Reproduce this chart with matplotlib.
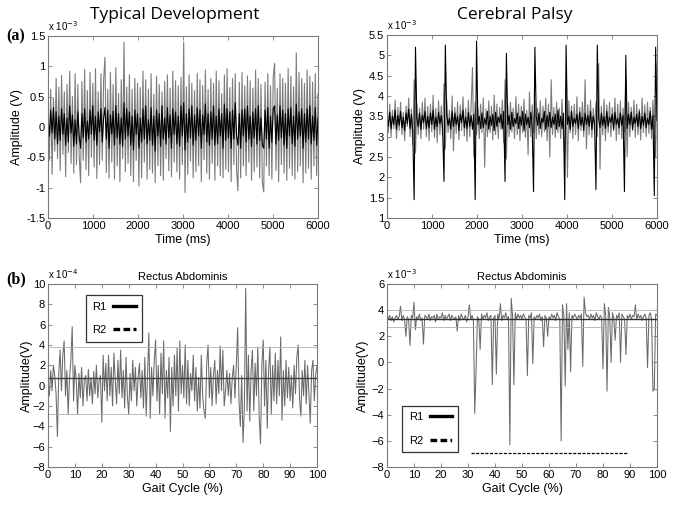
import numpy as np
import matplotlib
matplotlib.use("Agg")
import matplotlib.pyplot as plt
from matplotlib.lines import Line2D

plt.rcParams['font.family'] = ['Liberation Sans', 'DejaVu Sans']

# ---------------- data ----------------
# Top-left: Typical Development, amplitude in units of 0.01 x 10^-3 V
td_raw_gray = [
    25,-55,62,-78,48,-40,80,-52,66,-72,
    85,-45,58,-82,70,-42,92,-60,50,-76,
    88,-62,70,-48,-92,75,-55,95,-70,60,
    -80,90,-50,72,-66,96,-85,58,-62,88,
    -55,78,115,-75,62,-84,90,-58,70,-86,
    98,-64,55,-90,78,-52,140,-74,66,-60,
    86,-80,62,-90,80,-55,72,-97,65,-84,
    92,-58,78,-86,62,-70,88,-76,54,-92,
    84,-64,70,-80,58,-88,75,-52,86,-72,
    64,-82,92,-58,76,-74,68,-86,82,-62,
    140,-108,66,-78,86,-56,72,-84,60,-74,
    88,-64,78,-90,68,-54,94,-76,62,-86,
    80,-60,72,-88,92,-64,76,-80,55,-84,
    86,-70,96,-74,65,-90,80,-62,88,-72,
    -105,74,-84,90,-64,68,-80,84,-58,76,
    -88,64,-74,94,-66,80,-84,70,-92,-107,
    74,-64,88,-80,68,-86,82,105,-72,64,
    -90,88,-62,80,-76,72,-88,96,-68,84,
    -80,66,-86,122,-74,90,-64,80,-92,72,
    -76,94,-68,84,-86,74,-64,88,-80,55,
]
td_raw_black = [
    20,-15,28,-10,32,-20,25,-28,18,-22,
    30,-12,22,-30,15,-25,35,-10,20,-32,
    12,-28,25,-15,-35,22,-18,30,-25,10,
    -20,28,-12,35,-22,18,-30,25,-8,30,
    -25,15,32,-20,28,-35,20,-12,26,-30,
    35,-18,22,-28,15,-32,40,-20,30,-15,
    25,-30,18,-38,28,-12,22,-35,15,-25,
    30,-20,35,-28,12,-22,32,-30,18,-40,
    28,-15,22,-32,35,-20,15,-28,32,-18,
    20,-35,30,-12,25,-28,18,-32,35,-15,
    40,-38,22,-25,30,-18,35,-30,20,-22,
    32,-15,28,-35,20,-12,38,-25,22,-30,
    25,-20,35,-30,18,-28,30,-15,22,-35,
    38,-22,30,-18,25,-35,28,-20,40,-15,
    -30,22,-35,28,-15,30,-25,35,-20,18,
    -32,25,-18,30,-28,35,-22,15,-30,-35,
    28,-20,32,-35,18,-25,30,35,-28,20,
    -22,35,-18,28,-30,22,-35,30,-15,32,
    -28,18,-32,38,-20,25,-15,30,-35,22,
    -25,30,-20,35,-28,18,-22,32,-30,15,
]
# Top-right: Cerebral Palsy, units of 0.01 x 10^-3 V
cp_raw_gray = [
    370,310,380,300,365,320,390,295,372,315,
    385,305,360,290,375,325,395,300,368,280,
    440,260,380,305,370,295,385,318,395,300,
    375,290,380,312,402,298,370,285,388,305,
    376,300,430,270,392,310,365,295,400,265,
    372,308,385,292,378,315,398,302,370,288,
    390,300,375,470,250,385,305,372,295,380,
    310,395,225,368,300,388,310,375,292,402,
    305,380,295,372,318,390,285,440,245,378,
    300,385,312,370,295,398,305,380,290,375,
    310,392,298,365,255,410,300,378,310,385,
    295,370,305,388,300,375,312,395,290,380,
    250,440,305,372,298,385,310,370,295,392,
    302,250,420,200,388,310,375,295,380,305,
    398,290,372,315,385,300,440,270,378,305,
    390,298,370,312,385,300,480,220,375,305,
    392,290,378,310,385,300,372,315,395,290,
    380,305,388,295,370,312,440,250,385,300,
    372,315,390,298,380,305,368,292,395,310,
    378,300,385,308,372,295,390,305,250,480,
]
cp_raw_black = [
    355,325,360,320,350,330,365,318,352,328,
    362,322,348,315,358,332,368,320,355,310,
    145,520,345,325,358,318,352,335,362,320,
    350,322,358,330,365,318,348,325,360,332,
    352,320,190,525,355,328,345,318,362,325,
    358,330,350,315,355,335,365,322,348,320,
    360,325,352,318,355,145,535,330,350,320,
    358,322,345,330,362,318,350,328,355,315,
    360,325,348,335,355,320,362,190,505,330,
    352,318,360,325,345,332,358,320,350,328,
    362,315,355,330,348,322,360,325,165,520,
    350,328,358,320,345,335,362,318,352,325,
    360,322,348,330,355,318,365,325,350,320,
    358,145,525,330,350,318,362,325,345,332,
    355,320,360,328,348,315,358,330,352,325,
    362,318,350,332,170,525,345,322,358,328,
    350,320,362,325,348,335,355,318,360,330,
    345,322,358,328,352,165,500,320,355,330,
    360,318,348,332,355,325,362,320,350,328,
    358,322,345,330,362,318,352,155,520,340,
]
# Bottom-left: Rectus Abdominis (TD), units of 0.1 x 10^-4 V
td_gait = [
    5,-10,15,-5,20,10,-8,-50,12,35,
    -5,30,44,-10,15,-28,8,25,58,-15,
    20,5,-28,12,-12,18,-20,6,10,-15,
    16,-10,8,-18,14,-8,20,-12,5,10,
    -36,30,-5,22,-15,30,-10,18,-20,32,
    5,-18,25,-8,35,-12,15,-22,28,-10,
    -28,12,-15,25,-5,18,-20,8,22,-12,
    15,-22,28,-30,10,52,-32,18,-10,25,
    45,-15,20,-28,32,-8,44,-32,15,-12,
    28,-45,18,-20,30,-10,37,-25,44,-8,
    20,-12,40,-18,25,-20,12,-5,30,-15,
    18,-25,8,-22,30,-10,-25,-32,22,40,
    -12,18,-20,10,25,-18,15,-8,39,-5,
    35,-20,-5,15,-10,12,-18,8,20,-12,
    20,57,-15,-40,10,-56,-20,96,-25,30,
    -35,15,35,-25,22,-10,38,-30,-57,20,
    45,-20,25,-42,15,38,-28,20,-15,32,
    -18,25,-10,48,-34,15,-20,25,-12,18,
    -15,10,-22,20,-8,28,40,-12,-30,15,
    -10,25,-18,20,-8,-37,15,25,-15,10,
    20,
]
td_levels = [0.8, 3.85, -2.8]      # x 10^-4 V (R1 solid, thresholds)
# Bottom-right: Rectus Abdominis (CP), units of 0.1 x 10^-3 V
cp_gait = [
    37,33,36,32,35,31,34,36,33,35,
    43,32,36,33,20,35,33,13,36,34,
    46,25,35,33,37,32,34,14,36,35,
    33,37,32,35,34,36,31,37,33,35,
    34,38,32,36,33,35,37,32,36,34,
    33,35,24,36,32,37,34,33,36,31,
    35,44,33,36,32,-39,-5,35,33,10,
    37,33,36,34,38,32,35,36,-17,34,
    36,-9,37,33,45,32,36,34,38,33,
    35,-63,49,36,-17,38,33,37,34,36,
    33,37,35,32,-10,36,34,38,-1,35,
    33,36,34,37,32,35,12,36,34,20,
    35,33,37,34,36,32,38,35,33,-60,
    44,36,-18,45,10,38,-7,36,34,37,
    35,33,36,34,37,-3,50,38,35,36,
    33,37,34,36,32,38,35,33,36,34,
    -5,45,36,-22,42,35,0,38,34,17,
    36,34,38,0,37,35,33,6,36,34,
    37,33,36,35,44,33,37,34,36,32,
    35,37,34,-4,36,38,33,-22,-20,37,
    36,
]
cp_levels = [3.3, 4.0, 2.7]        # x 10^-3 V
cp_r2_level = -6.9
cp_r2_span = [31, 89]

# --------------- figure ---------------
W, H = 674, 509
fig = plt.figure(figsize=(W / 100, H / 100), dpi=100)

def axes_px(l, t, r, b):
    return fig.add_axes([l / W, 1 - b / H, (r - l) / W, (b - t) / H])

frame = '#7a7a7a'
def style(ax):
    for s in ax.spines.values():
        s.set_color(frame)
        s.set_linewidth(0.8)
    ax.tick_params(direction='in', top=True, right=True, length=3,
                   width=0.6, color=frame, labelsize=8, pad=2)

def mult(ax, exp):
    ax.text(0.0, 1.015, r'x 10$^{%d}$' % exp, transform=ax.transAxes,
            fontsize=7, ha='left', va='bottom')

gray = '#7c7c7c'

# (a) Typical Development
ax1 = axes_px(48, 36, 318, 218)
t1 = np.linspace(0, 6000, len(td_raw_gray))
ax1.plot(t1, np.array(td_raw_gray) / 100, color=gray, lw=0.8)
ax1.plot(t1, np.array(td_raw_black) / 100, color='black', lw=0.8)
ax1.set_xlim(0, 6000); ax1.set_ylim(-1.5, 1.5)
ax1.set_xticks(range(0, 6001, 1000))
ax1.set_yticks([-1.5, -1, -0.5, 0, 0.5, 1, 1.5])
ax1.set_yticklabels(['-1.5', '-1', '-0.5', '0', '0.5', '1', '1.5'])
ax1.set_xlabel('Time (ms)', fontsize=9, labelpad=2)
ax1.set_ylabel('Amplitude (V)', fontsize=9, labelpad=2)
style(ax1); mult(ax1, -3)

# (a) Cerebral Palsy
ax2 = axes_px(387, 35, 657, 218)
t2 = np.linspace(0, 6000, len(cp_raw_gray))
ax2.plot(t2, np.array(cp_raw_gray) / 100, color=gray, lw=0.8)
ax2.plot(t2, np.array(cp_raw_black) / 100, color='black', lw=0.8)
ax2.set_xlim(0, 6000); ax2.set_ylim(1, 5.5)
ax2.set_xticks(range(0, 6001, 1000))
ax2.set_yticks([1, 1.5, 2, 2.5, 3, 3.5, 4, 4.5, 5, 5.5])
ax2.set_yticklabels(['1', '1.5', '2', '2.5', '3', '3.5', '4', '4.5', '5', '5.5'])
ax2.set_xlabel('Time (ms)', fontsize=9, labelpad=2)
ax2.set_ylabel('Amplitude (V)', fontsize=9, labelpad=2)
style(ax2); mult(ax2, -3)

# (b) TD Rectus Abdominis
ax3 = axes_px(48, 284, 317, 467)
g3 = np.linspace(0, 100, len(td_gait))
ax3.plot(g3, np.array(td_gait) / 10, color='#6a6a6a', lw=0.75)
ax3.axhline(td_levels[0], color='#404040', lw=1.0)
for lv in td_levels[1:]:
    ax3.axhline(lv, color='#b0b0b0', lw=0.6)
ax3.set_xlim(0, 100); ax3.set_ylim(-8, 10)
ax3.set_xticks(range(0, 101, 10))
ax3.set_yticks(range(-8, 11, 2))
ax3.set_xlabel('Gait Cycle (%)', fontsize=9, labelpad=2)
ax3.set_ylabel('Amplitude(V)', fontsize=9, labelpad=0)
ax3.set_title('Rectus Abdominis', fontsize=8, pad=3)
style(ax3); mult(ax3, -4)
h1 = [Line2D([], [], color='black', lw=2.4),
      Line2D([], [], color='black', lw=2.4, ls=(0, (2, 1)))]
leg = ax3.legend(h1, ['R1', 'R2'], loc='upper left', bbox_to_anchor=(0.12, 0.97),
                 markerfirst=False, fontsize=8, frameon=True, fancybox=False,
                 edgecolor='black', handlelength=2.0, labelspacing=1.2,
                 borderpad=0.6, handletextpad=0.6)
leg.get_frame().set_linewidth(0.9)

# (b) CP Rectus Abdominis
ax4 = axes_px(387, 284, 657, 467)
g4 = np.linspace(0, 100, len(cp_gait))
ax4.plot(g4, np.array(cp_gait) / 10, color='#6a6a6a', lw=0.75)
ax4.axhline(cp_levels[0], color='#303030', lw=1.0)
for lv in cp_levels[1:]:
    ax4.axhline(lv, color='#b0b0b0', lw=0.6)
ax4.plot(cp_r2_span, [cp_r2_level, cp_r2_level], color='black', lw=0.9,
         ls=(0, (2.5, 1.2)))
ax4.set_xlim(0, 100); ax4.set_ylim(-8, 6)
ax4.set_xticks(range(0, 101, 10))
ax4.set_yticks(range(-8, 7, 2))
ax4.set_xlabel('Gait Cycle (%)', fontsize=9, labelpad=2)
ax4.set_ylabel('Amplitude(V)', fontsize=9, labelpad=2)
ax4.set_title('Rectus Abdominis', fontsize=8, pad=3)
style(ax4); mult(ax4, -3)
h2 = [Line2D([], [], color='black', lw=2.4),
      Line2D([], [], color='black', lw=2.4, ls=(0, (2, 1, 2, 1, 0.5, 1)))]
leg2 = ax4.legend(h2, ['R1', 'R2'], loc='lower left', bbox_to_anchor=(0.035, 0.05),
                  markerfirst=False, fontsize=8, frameon=True, fancybox=False,
                  edgecolor='black', handlelength=2.0, labelspacing=1.2,
                  borderpad=0.6, handletextpad=0.6)
leg2.get_frame().set_linewidth(0.9)

# Headings
fig.text(175 / W, 1 - 15 / H, 'Typical Development', fontsize=12.5,
         family=['Open Sans', 'DejaVu Sans'], ha='center', va='center')
fig.text(515 / W, 1 - 15 / H, 'Cerebral Palsy', fontsize=12.5,
         family=['Open Sans', 'DejaVu Sans'], ha='center', va='center')
fig.text(6 / W, 1 - 36 / H, '(a)', fontsize=11.5, fontweight='bold',
         family=['Liberation Serif', 'DejaVu Serif'], ha='left', va='center')
fig.text(6 / W, 1 - 279 / H, '(b)', fontsize=11.5, fontweight='bold',
         family=['Liberation Serif', 'DejaVu Serif'], ha='left', va='center')

fig.savefig('out.png', dpi=100)
